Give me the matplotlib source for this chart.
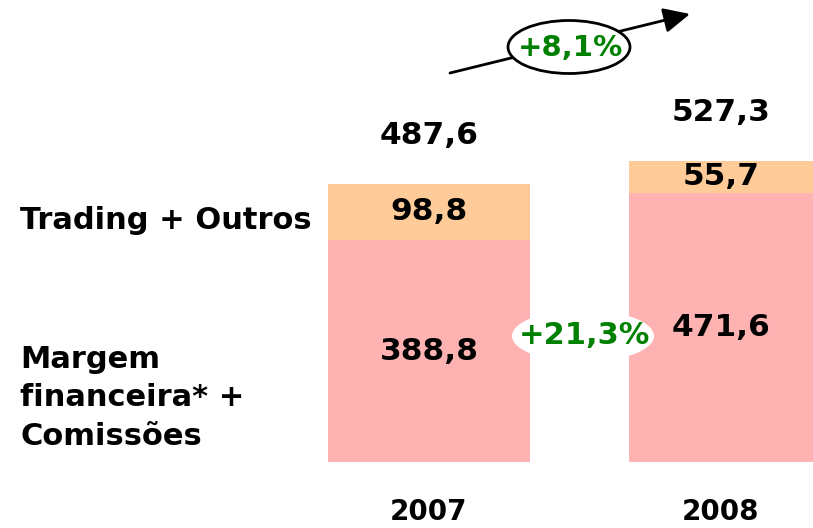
import matplotlib.pyplot as plt
from matplotlib.patches import Ellipse

# Data
years = ["2007", "2008"]
margem = [388.8, 471.6]
trading = [98.8, 55.7]
totals = [487.6, 527.3]
growth_total = "+8,1%"
growth_margem = "+21,3%"
series_labels = ["Trading + Outros", "Margem\nfinanceira* +\nComissões"]

W, H = 813, 528
c_margem = "#FFB2B2"
c_trading = "#FFCC99"
green = "#008000"


def fmt(v):
    return f"{v:.1f}".replace(".", ",")


def px(x, y):
    # pixel position (from top-left) -> figure fraction
    return (x / W, 1 - y / H)


fig = plt.figure(figsize=(W / 100, H / 100), dpi=100)
ax = fig.add_axes([0, 0, 1, 1])
ax.axis("off")

x = [0, 1]
width = 0.671
ax.set_xlim(-1.425, 1.276)
ax.set_ylim(-115.8, 810.5)

ax.bar(x, margem, width=width, color=c_margem)
ax.bar(x, trading, width=width, bottom=margem, color=c_trading)

xmax = ax.get_xlim()[1]
for i in range(len(years)):
    left = x[i] - width / 2
    cx = (left + min(x[i] + width / 2, xmax)) / 2
    ax.text(cx, margem[i] / 2, fmt(margem[i]), ha="center", va="center",
            fontsize=22.5, fontweight="bold")
    ax.text(cx, margem[i] + trading[i] / 2 + 2, fmt(trading[i]), ha="center",
            va="center", fontsize=22.5, fontweight="bold")
    ax.annotate(fmt(totals[i]), (cx, totals[i]), xytext=(0, 35),
                textcoords="offset points", ha="center", va="center",
                fontsize=22.5, fontweight="bold")
    ax.text(cx, -88, years[i], ha="center", va="center",
            fontsize=20, fontweight="bold")

# series labels on the left
fig.text(*px(20, 220), series_labels[0], ha="left", va="center",
         fontsize=22, fontweight="bold")
fig.text(*px(20, 398), series_labels[1], ha="left", va="center",
         fontsize=22, fontweight="bold", linespacing=1.4)

# growth of margem between bars
fig.patches.append(Ellipse(px(583, 336), 142 / W, 52 / H, transform=fig.transFigure,
                           facecolor="white", edgecolor="none", zorder=3))
fig.text(*px(584, 336), growth_margem, ha="center", va="center",
         fontsize=22, fontweight="bold", color=green, zorder=4)

# total growth arrow
ax.annotate("", xy=px(690, 14), xytext=px(450, 73),
            xycoords="figure fraction", textcoords="figure fraction",
            arrowprops=dict(arrowstyle="-|>,head_length=1.6,head_width=0.76",
                            color="black", lw=2, shrinkA=0, shrinkB=0))
fig.patches.append(Ellipse(px(569, 47), 122 / W, 53 / H, transform=fig.transFigure,
                           facecolor="white", edgecolor="black", lw=2, zorder=3))
fig.text(*px(570, 48), growth_total, ha="center", va="center",
         fontsize=21, fontweight="bold", color=green, zorder=4)

fig.savefig("out.png", dpi=100)
